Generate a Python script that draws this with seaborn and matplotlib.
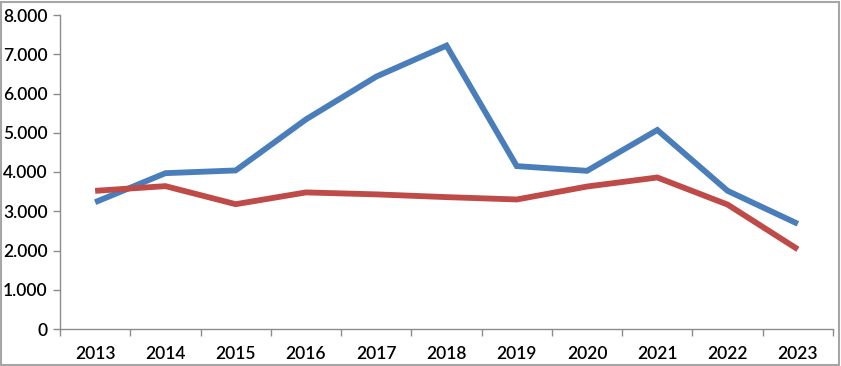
import matplotlib
matplotlib.use("Agg")
import matplotlib.pyplot as plt
import matplotlib.patches as mpatches
from matplotlib.ticker import FuncFormatter, FixedLocator
import seaborn as sns
import pandas as pd

years = [2013, 2014, 2015, 2016, 2017, 2018, 2019, 2020, 2021, 2022, 2023]
blue_values = [3230, 3970, 4040, 5340, 6430, 7220, 4150, 4030, 5070, 3520, 2680]
red_values = [3520, 3640, 3180, 3480, 3430, 3360, 3300, 3630, 3860, 3170, 2030]
y_ticks = [0, 1000, 2000, 3000, 4000, 5000, 6000, 7000, 8000]

sns.set_theme(style="white")
plt.rcParams['font.family'] = ['Lato', 'DejaVu Sans']

df = pd.DataFrame({
    "pos": list(range(len(years))) * 2,
    "value": blue_values + red_values,
    "series": ["A"] * len(years) + ["B"] * len(years),
})

fig = plt.figure(figsize=(8.41, 3.66), dpi=100)
ax = fig.add_axes([60 / 841, 37 / 366, (833 - 60) / 841, (351 - 37) / 366])

sns.lineplot(data=df, x="pos", y="value", hue="series",
             palette={"A": "#4A7EBB", "B": "#BE4B48"},
             linewidth=4.2, legend=False, ax=ax, sort=False)
for ln in ax.lines:
    ln.set_solid_joinstyle("miter")
    ln.set_solid_capstyle("butt")

ax.set_xlim(-0.5, len(years) - 0.5)
ax.set_ylim(0, 8000)
ax.set_xlabel("")
ax.set_ylabel("")

# category ticks between labels
ax.xaxis.set_major_locator(FixedLocator([i - 0.5 for i in range(len(years) + 1)]))
ax.xaxis.set_major_formatter(FuncFormatter(lambda v, p: ""))
ax.xaxis.set_minor_locator(FixedLocator(list(range(len(years)))))
ax.set_xticklabels([str(y) for y in years], minor=True)
ax.tick_params(axis="x", which="major", direction="out", length=5, width=1,
               color="#8C8C8C", bottom=True)
ax.tick_params(axis="x", which="minor", length=0, pad=12, labelsize=12.5,
               labelcolor="#000000")

ax.set_yticks(y_ticks)
ax.yaxis.set_major_formatter(FuncFormatter(lambda v, p: f"{int(v):,}".replace(",", ".")))
ax.tick_params(axis="y", direction="out", length=5, width=1, color="#8C8C8C",
               left=True, labelsize=12.5, labelcolor="#000000", pad=4)

for side in ["top", "right"]:
    ax.spines[side].set_visible(False)
for side in ["left", "bottom"]:
    ax.spines[side].set_color("#8C8C8C")
    ax.spines[side].set_linewidth(1)

for lbl in ax.get_xticklabels(minor=True) + ax.get_yticklabels():
    lbl.set_fontweight("semibold")

border = mpatches.Rectangle((1 / 841, 1 / 366), 838 / 841, 363 / 366,
                            transform=fig.transFigure, fill=False,
                            edgecolor="#A6A6A6", linewidth=1.5)
fig.patches.append(border)

fig.savefig("out.png", dpi=100)
